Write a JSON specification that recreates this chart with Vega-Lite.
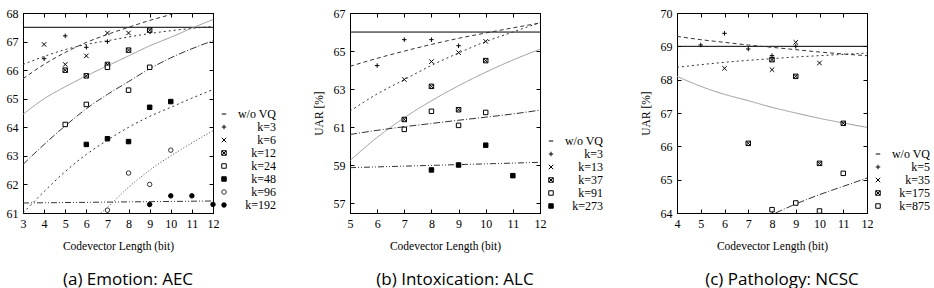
{
  "$schema": "https://vega.github.io/schema/vega-lite/v6.json",
  "padding": {"left": 5, "top": 6, "right": 0, "bottom": 0},
  "background": "white",
  "bounds": "flush",
  "spacing": 137,
  "config": {
    "view": {"stroke": "black", "strokeWidth": 1},
    "axis": {"grid": false, "domainColor": "black", "tickColor": "black", "tickSize": -4, "labelFont": "Liberation Serif", "labelFontSize": 12, "labelColor": "black", "titleFont": "Liberation Serif", "titleFontSize": 11.5, "titleFontWeight": "normal", "titleColor": "black", "labelPadding": 9, "labelFlush": false, "labelOverlap": false, "titlePadding": 11},
    "legend": {"title": null, "orient": "none", "labelAlign": "right", "labelOffset": 46, "labelFont": "Liberation Serif", "labelFontSize": 12, "labelColor": "black", "symbolSize": 20, "symbolStrokeWidth": 1, "rowPadding": 1, "padding": 0, "symbolType": "circle"}
  },
  "resolve": {"scale": {"shape": "independent", "fill": "independent", "stroke": "independent", "color": "independent", "strokeDash": "independent", "x": "independent", "y": "independent"}, "legend": {"shape": "independent", "fill": "independent", "stroke": "independent"}},
  "hconcat": [
    {
      "width": 190, "height": 200,
      "title": {"text": "(a) Emotion: AEC", "orient": "bottom", "anchor": "middle", "dx": 10, "offset": 20, "font": "Open Sans", "fontSize": 17, "fontWeight": "normal", "color": "black"},
      "resolve": {"axis": {"x": "independent", "y": "independent"}},
      "layer": [
        {
          "data": {"values": [{"uar": 67.5}]},
          "mark": {"type": "rule", "color": "black", "strokeWidth": 1},
          "encoding": {"y": {"field": "uar", "type": "quantitative", "axis": null, "scale": {"domain": [61, 68], "nice": false, "zero": false}}}
        },
        {
          "data": {"values": [
            {"x": 3, "uar": 65.7, "fit": "k=3"}, {"x": 4, "uar": 66.2, "fit": "k=3"}, {"x": 5, "uar": 66.62, "fit": "k=3"}, {"x": 6, "uar": 66.97, "fit": "k=3"}, {"x": 7, "uar": 67.25, "fit": "k=3"}, {"x": 8, "uar": 67.5, "fit": "k=3"}, {"x": 9, "uar": 67.74, "fit": "k=3"}, {"x": 10, "uar": 67.95, "fit": "k=3"}, {"x": 10.2, "uar": 68.0, "fit": "k=3"},
            {"x": 3, "uar": 66.2, "fit": "k=6"}, {"x": 4, "uar": 66.48, "fit": "k=6"}, {"x": 5, "uar": 66.72, "fit": "k=6"}, {"x": 6, "uar": 66.9, "fit": "k=6"}, {"x": 7, "uar": 67.03, "fit": "k=6"}, {"x": 8, "uar": 67.16, "fit": "k=6"}, {"x": 9, "uar": 67.28, "fit": "k=6"}, {"x": 10, "uar": 67.38, "fit": "k=6"}, {"x": 11, "uar": 67.46, "fit": "k=6"}, {"x": 12, "uar": 67.53, "fit": "k=6"},
            {"x": 3, "uar": 64.45, "fit": "k=12"}, {"x": 4, "uar": 65.0, "fit": "k=12"}, {"x": 5, "uar": 65.42, "fit": "k=12"}, {"x": 6, "uar": 65.8, "fit": "k=12"}, {"x": 7, "uar": 66.15, "fit": "k=12"}, {"x": 8, "uar": 66.5, "fit": "k=12"}, {"x": 9, "uar": 66.85, "fit": "k=12"}, {"x": 10, "uar": 67.15, "fit": "k=12"}, {"x": 11, "uar": 67.47, "fit": "k=12"}, {"x": 12, "uar": 67.77, "fit": "k=12"},
            {"x": 3, "uar": 62.7, "fit": "k=24"}, {"x": 4, "uar": 63.4, "fit": "k=24"}, {"x": 5, "uar": 64.05, "fit": "k=24"}, {"x": 6, "uar": 64.65, "fit": "k=24"}, {"x": 7, "uar": 65.15, "fit": "k=24"}, {"x": 8, "uar": 65.6, "fit": "k=24"}, {"x": 9, "uar": 66.05, "fit": "k=24"}, {"x": 10, "uar": 66.43, "fit": "k=24"}, {"x": 11, "uar": 66.75, "fit": "k=24"}, {"x": 12, "uar": 67.03, "fit": "k=24"},
            {"x": 3, "uar": 61.0, "fit": "k=48"}, {"x": 4, "uar": 61.75, "fit": "k=48"}, {"x": 5, "uar": 62.45, "fit": "k=48"}, {"x": 6, "uar": 63.05, "fit": "k=48"}, {"x": 7, "uar": 63.55, "fit": "k=48"}, {"x": 8, "uar": 64.0, "fit": "k=48"}, {"x": 9, "uar": 64.38, "fit": "k=48"}, {"x": 10, "uar": 64.7, "fit": "k=48"}, {"x": 11, "uar": 65.02, "fit": "k=48"}, {"x": 12, "uar": 65.32, "fit": "k=48"},
            {"x": 6.7, "uar": 61.0, "fit": "k=96"}, {"x": 7, "uar": 61.2, "fit": "k=96"}, {"x": 8, "uar": 61.9, "fit": "k=96"}, {"x": 9, "uar": 62.5, "fit": "k=96"}, {"x": 10, "uar": 63.0, "fit": "k=96"}, {"x": 11, "uar": 63.45, "fit": "k=96"}, {"x": 12, "uar": 63.88, "fit": "k=96"},
            {"x": 3, "uar": 61.35, "fit": "k=192"}, {"x": 12, "uar": 61.42, "fit": "k=192"}
          ]},
          "mark": {"type": "line", "clip": true, "strokeWidth": 1, "interpolate": "monotone"},
          "encoding": {
            "x": {"field": "x", "type": "quantitative", "scale": {"domain": [3, 12], "nice": false, "zero": false}, "axis": {"orient": "top", "labels": false, "title": null, "values": [3, 4, 5, 6, 7, 8, 9, 10, 11, 12]}},
            "y": {"field": "uar", "type": "quantitative", "scale": {"domain": [61, 68], "nice": false, "zero": false}, "axis": {"orient": "right", "labels": false, "title": null, "values": [61, 62, 63, 64, 65, 66, 67, 68]}},
            "color": {"field": "fit", "type": "nominal", "legend": null, "scale": {"domain": ["k=3", "k=6", "k=12", "k=24", "k=48", "k=96", "k=192"], "range": ["#333", "#333", "#999", "#333", "#333", "#444", "#333"]}},
            "strokeDash": {"field": "fit", "type": "nominal", "legend": null, "scale": {"domain": ["k=3", "k=6", "k=12", "k=24", "k=48", "k=96", "k=192"], "range": [[4, 3], [2, 3], [1, 0], [7, 2, 1, 2], [2, 3], [1, 2], [6, 2, 1, 2, 1, 2]]}}
          }
        },
        {
          "data": {"values": [
            {"x": 4, "uar": 66.4, "k": "k=3"}, {"x": 5, "uar": 67.2, "k": "k=3"}, {"x": 6, "uar": 66.8, "k": "k=3"}, {"x": 7, "uar": 67.0, "k": "k=3"},
            {"x": 4, "uar": 66.9, "k": "k=6"}, {"x": 5, "uar": 66.2, "k": "k=6"}, {"x": 6, "uar": 66.5, "k": "k=6"}, {"x": 7, "uar": 67.3, "k": "k=6"}, {"x": 8, "uar": 67.3, "k": "k=6"},
            {"x": 5, "uar": 66.0, "k": "k=12"}, {"x": 6, "uar": 65.8, "k": "k=12"}, {"x": 7, "uar": 66.2, "k": "k=12"}, {"x": 8, "uar": 66.7, "k": "k=12"}, {"x": 9, "uar": 67.4, "k": "k=12"},
            {"x": 5, "uar": 64.1, "k": "k=24"}, {"x": 6, "uar": 64.8, "k": "k=24"}, {"x": 7, "uar": 66.1, "k": "k=24"}, {"x": 8, "uar": 65.3, "k": "k=24"}, {"x": 9, "uar": 66.1, "k": "k=24"},
            {"x": 6, "uar": 63.4, "k": "k=48"}, {"x": 7, "uar": 63.6, "k": "k=48"}, {"x": 8, "uar": 63.5, "k": "k=48"}, {"x": 9, "uar": 64.7, "k": "k=48"}, {"x": 10, "uar": 64.9, "k": "k=48"},
            {"x": 7, "uar": 61.1, "k": "k=96"}, {"x": 8, "uar": 62.4, "k": "k=96"}, {"x": 9, "uar": 62.0, "k": "k=96"}, {"x": 10, "uar": 63.2, "k": "k=96"},
            {"x": 9, "uar": 61.3, "k": "k=192"}, {"x": 10, "uar": 61.6, "k": "k=192"}, {"x": 11, "uar": 61.6, "k": "k=192"}, {"x": 12, "uar": 61.3, "k": "k=192"}
          ]},
          "mark": {"type": "point", "filled": true, "strokeWidth": 1, "size": 20, "opacity": 1},
          "encoding": {
            "x": {"field": "x", "type": "quantitative", "scale": {"domain": [3, 12], "nice": false, "zero": false}, "axis": {"orient": "bottom", "title": "Codevector Length (bit)", "values": [3, 4, 5, 6, 7, 8, 9, 10, 11, 12]}},
            "y": {"field": "uar", "type": "quantitative", "scale": {"domain": [61, 68], "nice": false, "zero": false}, "axis": {"orient": "left", "title": null, "values": [61, 62, 63, 64, 65, 66, 67, 68]}},
            "shape": {"field": "k", "type": "nominal", "scale": {"domain": ["w/o VQ", "k=3", "k=6", "k=12", "k=24", "k=48", "k=96", "k=192"], "range": ["M-1,0L1,0", "M-1,0L1,0M0,-1L0,1", "M-1,-1L1,1M-1,1L1,-1", "M-1,-1L1,-1L1,1L-1,1ZM-1,-1L1,1M-1,1L1,-1", "square", "square", "circle", "circle"]}, "legend": {"orient": "none", "legendX": 195, "legendY": 95}},
            "fill": {"field": "k", "type": "nominal", "scale": {"domain": ["w/o VQ", "k=3", "k=6", "k=12", "k=24", "k=48", "k=96", "k=192"], "range": ["transparent", "transparent", "transparent", "transparent", "white", "black", "white", "black"]}, "legend": {"orient": "none", "legendX": 195, "legendY": 95}},
            "stroke": {"field": "k", "type": "nominal", "scale": {"domain": ["w/o VQ", "k=3", "k=6", "k=12", "k=24", "k=48", "k=96", "k=192"], "range": ["black", "black", "black", "black", "black", "black", "#333", "black"]}, "legend": {"orient": "none", "legendX": 195, "legendY": 95}}
          }
        }
      ]
    },
    {
      "width": 190, "height": 200,
      "title": {"text": "(b) Intoxication: ALC", "orient": "bottom", "anchor": "middle", "dx": 10, "offset": 20, "font": "Open Sans", "fontSize": 17, "fontWeight": "normal", "color": "black"},
      "resolve": {"axis": {"x": "independent", "y": "independent"}},
      "layer": [
        {
          "data": {"values": [{"uar": 66.0}]},
          "mark": {"type": "rule", "color": "black", "strokeWidth": 1},
          "encoding": {"y": {"field": "uar", "type": "quantitative", "axis": null, "scale": {"domain": [56.5, 67], "nice": false, "zero": false}}}
        },
        {
          "data": {"values": [
            {"x": 5, "uar": 64.2, "fit": "k=3"}, {"x": 6, "uar": 64.62, "fit": "k=3"}, {"x": 7, "uar": 65.0, "fit": "k=3"}, {"x": 8, "uar": 65.35, "fit": "k=3"}, {"x": 9, "uar": 65.67, "fit": "k=3"}, {"x": 10, "uar": 65.95, "fit": "k=3"}, {"x": 11, "uar": 66.22, "fit": "k=3"}, {"x": 12, "uar": 66.47, "fit": "k=3"},
            {"x": 5, "uar": 61.85, "fit": "k=13"}, {"x": 6, "uar": 62.75, "fit": "k=13"}, {"x": 7, "uar": 63.5, "fit": "k=13"}, {"x": 8, "uar": 64.25, "fit": "k=13"}, {"x": 9, "uar": 64.9, "fit": "k=13"}, {"x": 10, "uar": 65.5, "fit": "k=13"}, {"x": 11, "uar": 66.0, "fit": "k=13"}, {"x": 12, "uar": 66.5, "fit": "k=13"},
            {"x": 5, "uar": 59.25, "fit": "k=37"}, {"x": 6, "uar": 60.47, "fit": "k=37"}, {"x": 7, "uar": 61.5, "fit": "k=37"}, {"x": 8, "uar": 62.39, "fit": "k=37"}, {"x": 9, "uar": 63.18, "fit": "k=37"}, {"x": 10, "uar": 63.89, "fit": "k=37"}, {"x": 11, "uar": 64.53, "fit": "k=37"}, {"x": 12, "uar": 65.1, "fit": "k=37"},
            {"x": 5, "uar": 60.62, "fit": "k=91"}, {"x": 6, "uar": 60.84, "fit": "k=91"}, {"x": 7, "uar": 61.03, "fit": "k=91"}, {"x": 8, "uar": 61.2, "fit": "k=91"}, {"x": 9, "uar": 61.37, "fit": "k=91"}, {"x": 10, "uar": 61.53, "fit": "k=91"}, {"x": 11, "uar": 61.7, "fit": "k=91"}, {"x": 12, "uar": 61.9, "fit": "k=91"},
            {"x": 5, "uar": 58.88, "fit": "k=273"}, {"x": 12, "uar": 59.16, "fit": "k=273"}
          ]},
          "mark": {"type": "line", "clip": true, "strokeWidth": 1, "interpolate": "monotone"},
          "encoding": {
            "x": {"field": "x", "type": "quantitative", "scale": {"domain": [5, 12], "nice": false, "zero": false}, "axis": {"orient": "top", "labels": false, "title": null, "values": [5, 6, 7, 8, 9, 10, 11, 12]}},
            "y": {"field": "uar", "type": "quantitative", "scale": {"domain": [56.5, 67], "nice": false, "zero": false}, "axis": {"orient": "right", "labels": false, "title": null, "values": [57, 59, 61, 63, 65, 67]}},
            "color": {"field": "fit", "type": "nominal", "legend": null, "scale": {"domain": ["k=3", "k=13", "k=37", "k=91", "k=273"], "range": ["#333", "#333", "#999", "#333", "#333"]}},
            "strokeDash": {"field": "fit", "type": "nominal", "legend": null, "scale": {"domain": ["k=3", "k=13", "k=37", "k=91", "k=273"], "range": [[4, 3], [2, 3], [1, 0], [7, 2, 1, 2], [6, 2, 1, 2, 1, 2]]}}
          }
        },
        {
          "data": {"values": [
            {"x": 6, "uar": 64.24, "k": "k=3"}, {"x": 7, "uar": 65.6, "k": "k=3"}, {"x": 8, "uar": 65.6, "k": "k=3"}, {"x": 9, "uar": 65.28, "k": "k=3"},
            {"x": 7, "uar": 63.51, "k": "k=13"}, {"x": 8, "uar": 64.45, "k": "k=13"}, {"x": 9, "uar": 64.92, "k": "k=13"}, {"x": 10, "uar": 65.51, "k": "k=13"},
            {"x": 7, "uar": 61.41, "k": "k=37"}, {"x": 8, "uar": 63.15, "k": "k=37"}, {"x": 9, "uar": 61.92, "k": "k=37"}, {"x": 10, "uar": 64.5, "k": "k=37"},
            {"x": 7, "uar": 60.89, "k": "k=91"}, {"x": 8, "uar": 61.84, "k": "k=91"}, {"x": 9, "uar": 61.1, "k": "k=91"}, {"x": 10, "uar": 61.78, "k": "k=91"},
            {"x": 8, "uar": 58.76, "k": "k=273"}, {"x": 9, "uar": 59.02, "k": "k=273"}, {"x": 10, "uar": 60.06, "k": "k=273"}, {"x": 11, "uar": 58.46, "k": "k=273"}
          ]},
          "mark": {"type": "point", "filled": true, "strokeWidth": 1, "size": 20, "opacity": 1},
          "encoding": {
            "x": {"field": "x", "type": "quantitative", "scale": {"domain": [5, 12], "nice": false, "zero": false}, "axis": {"orient": "bottom", "title": "Codevector Length (bit)", "values": [5, 6, 7, 8, 9, 10, 11, 12]}},
            "y": {"field": "uar", "type": "quantitative", "scale": {"domain": [56.5, 67], "nice": false, "zero": false}, "axis": {"orient": "left", "title": "UAR [%]", "titlePadding": 9, "values": [57, 59, 61, 63, 65, 67]}},
            "shape": {"field": "k", "type": "nominal", "scale": {"domain": ["w/o VQ", "k=3", "k=13", "k=37", "k=91", "k=273"], "range": ["M-1,0L1,0", "M-1,0L1,0M0,-1L0,1", "M-1,-1L1,1M-1,1L1,-1", "M-1,-1L1,-1L1,1L-1,1ZM-1,-1L1,1M-1,1L1,-1", "square", "square"]}, "legend": {"orient": "none", "legendX": 195, "legendY": 122}},
            "fill": {"field": "k", "type": "nominal", "scale": {"domain": ["w/o VQ", "k=3", "k=13", "k=37", "k=91", "k=273"], "range": ["transparent", "transparent", "transparent", "transparent", "white", "black"]}, "legend": {"orient": "none", "legendX": 195, "legendY": 122}},
            "stroke": {"field": "k", "type": "nominal", "scale": {"domain": ["w/o VQ", "k=3", "k=13", "k=37", "k=91", "k=273"], "range": ["black", "black", "black", "black", "black", "black"]}, "legend": {"orient": "none", "legendX": 195, "legendY": 122}}
          }
        }
      ]
    },
    {
      "width": 190, "height": 200,
      "title": {"text": "(c) Pathology: NCSC", "orient": "bottom", "anchor": "middle", "dx": 10, "offset": 20, "font": "Open Sans", "fontSize": 17, "fontWeight": "normal", "color": "black"},
      "resolve": {"axis": {"x": "independent", "y": "independent"}},
      "layer": [
        {
          "data": {"values": [{"uar": 69.0}]},
          "mark": {"type": "rule", "color": "black", "strokeWidth": 1},
          "encoding": {"y": {"field": "uar", "type": "quantitative", "axis": null, "scale": {"domain": [64, 70], "nice": false, "zero": false}}}
        },
        {
          "data": {"values": [
            {"x": 4, "uar": 69.3, "fit": "k=5"}, {"x": 5, "uar": 69.2, "fit": "k=5"}, {"x": 6, "uar": 69.12, "fit": "k=5"}, {"x": 7, "uar": 69.04, "fit": "k=5"}, {"x": 8, "uar": 68.97, "fit": "k=5"}, {"x": 9, "uar": 68.9, "fit": "k=5"}, {"x": 10, "uar": 68.83, "fit": "k=5"}, {"x": 11, "uar": 68.77, "fit": "k=5"}, {"x": 12, "uar": 68.72, "fit": "k=5"},
            {"x": 4, "uar": 68.37, "fit": "k=35"}, {"x": 5, "uar": 68.45, "fit": "k=35"}, {"x": 6, "uar": 68.52, "fit": "k=35"}, {"x": 7, "uar": 68.58, "fit": "k=35"}, {"x": 8, "uar": 68.63, "fit": "k=35"}, {"x": 9, "uar": 68.68, "fit": "k=35"}, {"x": 10, "uar": 68.72, "fit": "k=35"}, {"x": 11, "uar": 68.76, "fit": "k=35"}, {"x": 12, "uar": 68.8, "fit": "k=35"},
            {"x": 4, "uar": 68.1, "fit": "k=175"}, {"x": 5, "uar": 67.8, "fit": "k=175"}, {"x": 6, "uar": 67.56, "fit": "k=175"}, {"x": 7, "uar": 67.37, "fit": "k=175"}, {"x": 8, "uar": 67.17, "fit": "k=175"}, {"x": 9, "uar": 67.0, "fit": "k=175"}, {"x": 10, "uar": 66.84, "fit": "k=175"}, {"x": 11, "uar": 66.7, "fit": "k=175"}, {"x": 12, "uar": 66.57, "fit": "k=175"},
            {"x": 8.15, "uar": 64.0, "fit": "k=875"}, {"x": 9, "uar": 64.27, "fit": "k=875"}, {"x": 10, "uar": 64.55, "fit": "k=875"}, {"x": 11, "uar": 64.8, "fit": "k=875"}, {"x": 12, "uar": 65.05, "fit": "k=875"}
          ]},
          "mark": {"type": "line", "clip": true, "strokeWidth": 1, "interpolate": "monotone"},
          "encoding": {
            "x": {"field": "x", "type": "quantitative", "scale": {"domain": [4, 12], "nice": false, "zero": false}, "axis": {"orient": "top", "labels": false, "title": null, "values": [4, 5, 6, 7, 8, 9, 10, 11, 12]}},
            "y": {"field": "uar", "type": "quantitative", "scale": {"domain": [64, 70], "nice": false, "zero": false}, "axis": {"orient": "right", "labels": false, "title": null, "values": [64, 65, 66, 67, 68, 69, 70]}},
            "color": {"field": "fit", "type": "nominal", "legend": null, "scale": {"domain": ["k=5", "k=35", "k=175", "k=875"], "range": ["#333", "#333", "#999", "#333"]}},
            "strokeDash": {"field": "fit", "type": "nominal", "legend": null, "scale": {"domain": ["k=5", "k=35", "k=175", "k=875"], "range": [[4, 3], [2, 3], [1, 0], [7, 2, 1, 2]]}}
          }
        },
        {
          "data": {"values": [
            {"x": 5, "uar": 69.04, "k": "k=5"}, {"x": 6, "uar": 69.39, "k": "k=5"}, {"x": 7, "uar": 68.92, "k": "k=5"}, {"x": 8, "uar": 68.72, "k": "k=5"}, {"x": 9, "uar": 69.0, "k": "k=5"},
            {"x": 6, "uar": 68.34, "k": "k=35"}, {"x": 8, "uar": 68.3, "k": "k=35"}, {"x": 9, "uar": 69.12, "k": "k=35"}, {"x": 10, "uar": 68.5, "k": "k=35"},
            {"x": 7, "uar": 66.09, "k": "k=175"}, {"x": 8, "uar": 68.6, "k": "k=175"}, {"x": 9, "uar": 68.1, "k": "k=175"}, {"x": 10, "uar": 65.49, "k": "k=175"}, {"x": 11, "uar": 66.69, "k": "k=175"},
            {"x": 8, "uar": 64.1, "k": "k=875"}, {"x": 9, "uar": 64.3, "k": "k=875"}, {"x": 10, "uar": 64.06, "k": "k=875"}, {"x": 11, "uar": 65.19, "k": "k=875"}
          ]},
          "mark": {"type": "point", "filled": true, "strokeWidth": 1, "size": 20, "opacity": 1},
          "encoding": {
            "x": {"field": "x", "type": "quantitative", "scale": {"domain": [4, 12], "nice": false, "zero": false}, "axis": {"orient": "bottom", "title": "Codevector Length (bit)", "values": [4, 5, 6, 7, 8, 9, 10, 11, 12]}},
            "y": {"field": "uar", "type": "quantitative", "scale": {"domain": [64, 70], "nice": false, "zero": false}, "axis": {"orient": "left", "title": "UAR [%]", "titlePadding": 9, "values": [64, 65, 66, 67, 68, 69, 70]}},
            "shape": {"field": "k", "type": "nominal", "scale": {"domain": ["w/o VQ", "k=5", "k=35", "k=175", "k=875"], "range": ["M-1,0L1,0", "M-1,0L1,0M0,-1L0,1", "M-1,-1L1,1M-1,1L1,-1", "M-1,-1L1,-1L1,1L-1,1ZM-1,-1L1,1M-1,1L1,-1", "square"]}, "legend": {"orient": "none", "legendX": 195, "legendY": 135}},
            "fill": {"field": "k", "type": "nominal", "scale": {"domain": ["w/o VQ", "k=5", "k=35", "k=175", "k=875"], "range": ["transparent", "transparent", "transparent", "transparent", "white"]}, "legend": {"orient": "none", "legendX": 195, "legendY": 135}},
            "stroke": {"field": "k", "type": "nominal", "scale": {"domain": ["w/o VQ", "k=5", "k=35", "k=175", "k=875"], "range": ["black", "black", "black", "black", "black"]}, "legend": {"orient": "none", "legendX": 195, "legendY": 135}}
          }
        }
      ]
    }
  ]
}
